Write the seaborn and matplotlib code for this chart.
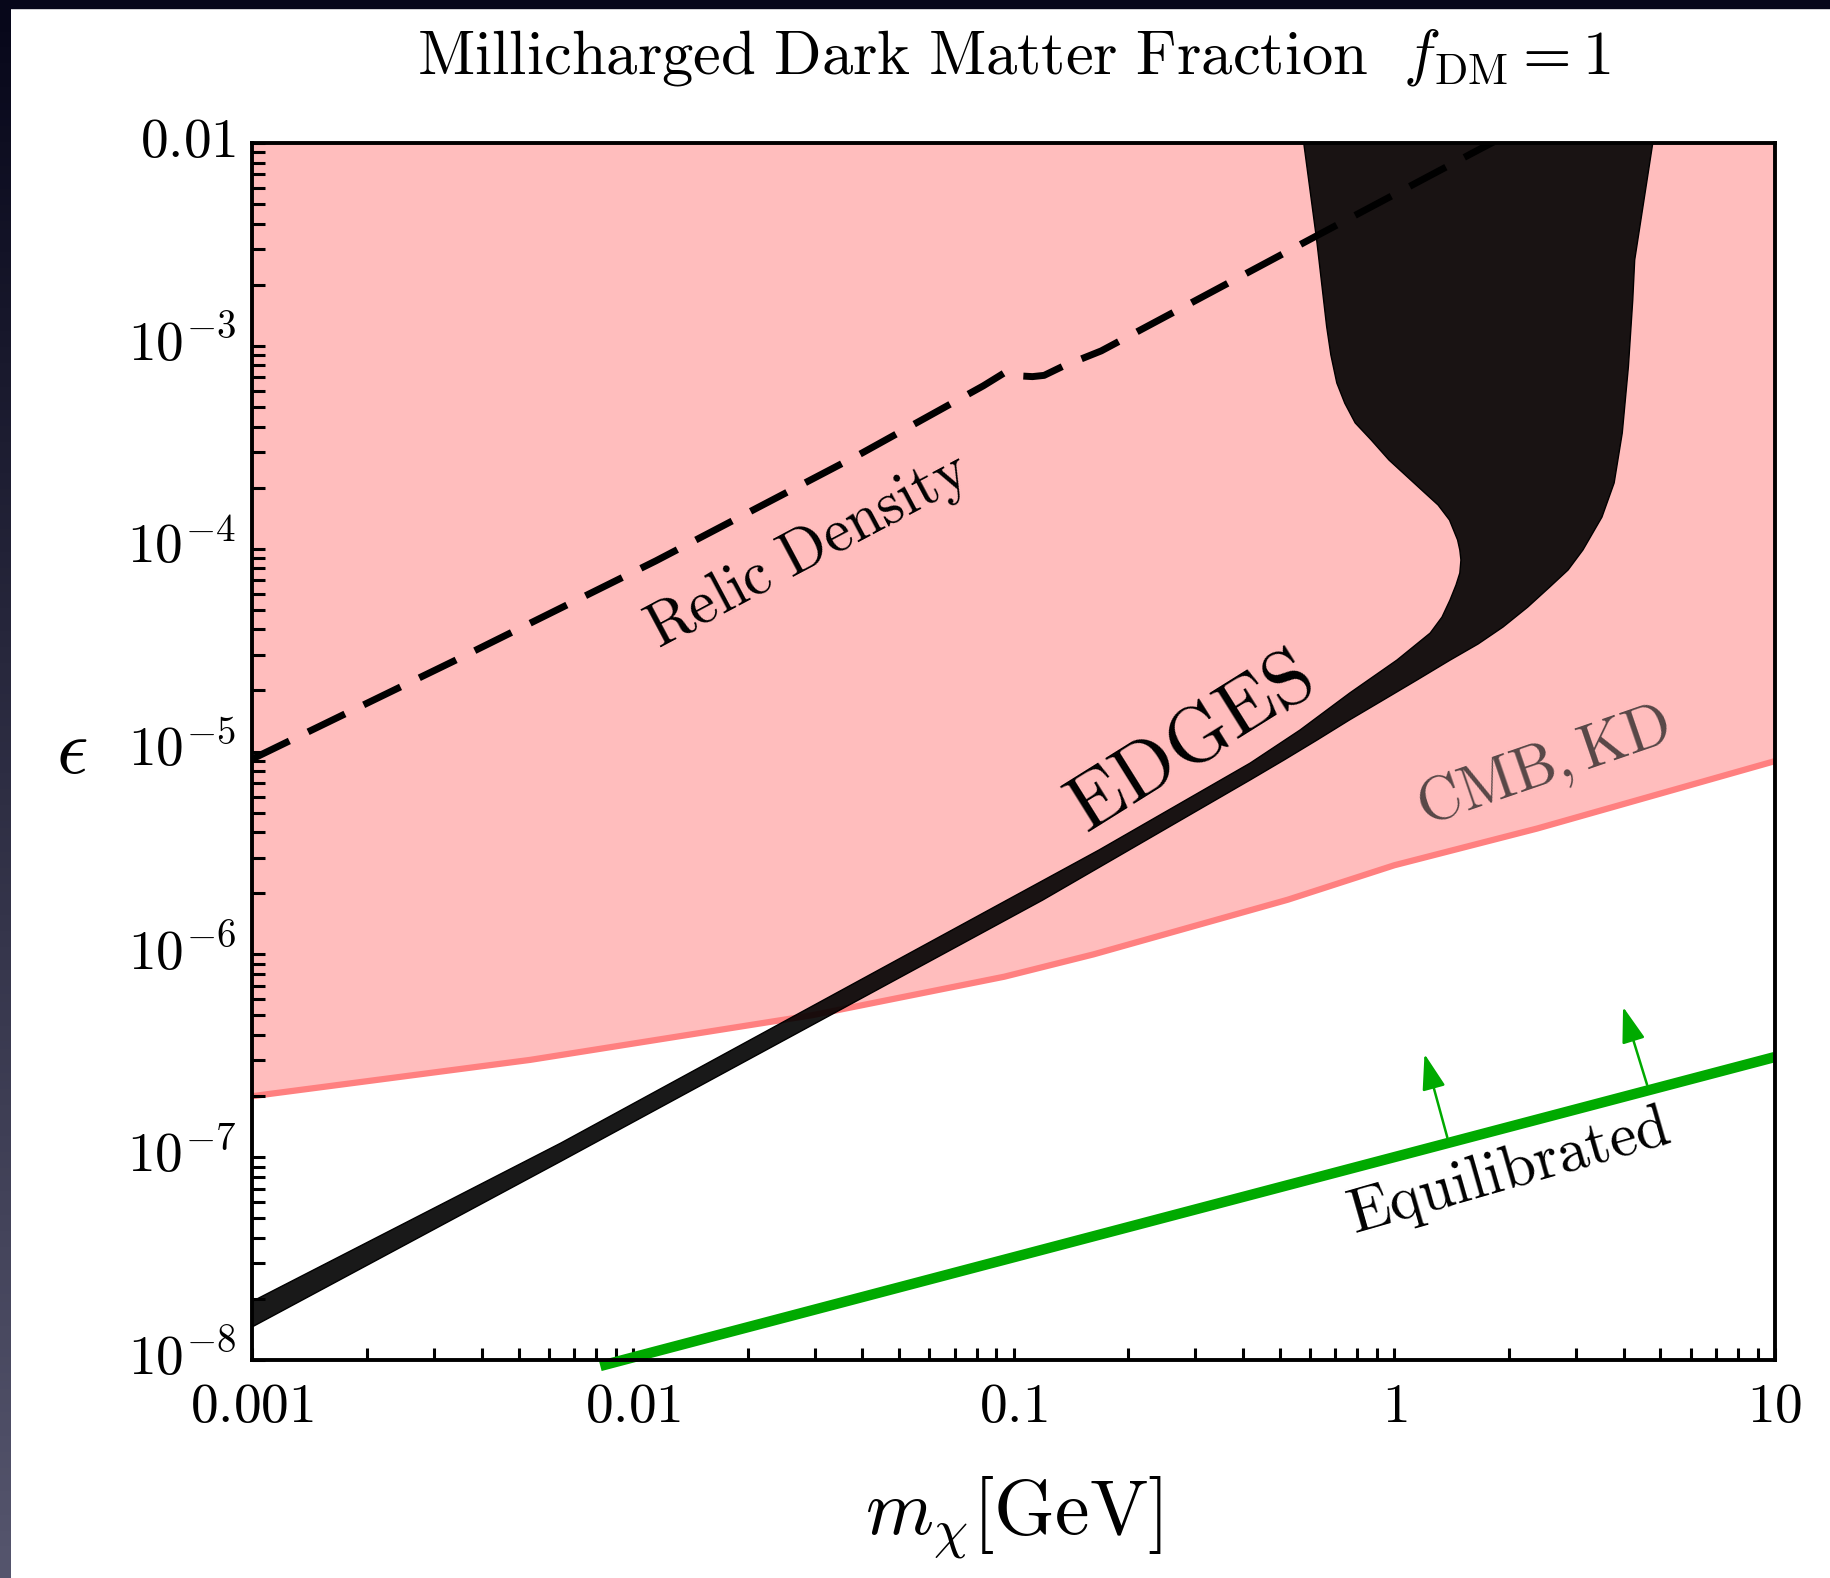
import numpy as np
import matplotlib
matplotlib.use("Agg")
import matplotlib.pyplot as plt
from matplotlib.patches import Rectangle
from matplotlib.transforms import ScaledTranslation
from matplotlib.ticker import LogLocator, NullFormatter, FixedFormatter, FixedLocator
import seaborn as sns

# ── Data ─────────────────────────────────────────────────────────────────────
# CMB, KD bound (pink region above it)
cmb_mass = [0.001, 0.00537, 0.0295, 0.0944, 0.162, 0.525, 1.0, 2.37, 10.0]
cmb_eps  = [2.0e-7, 3.02e-7, 5.01e-7, 7.76e-7, 1.0e-6, 1.86e-6, 2.75e-6, 4.17e-6, 8.97e-6]

# relic density (dashed)
relic_mass = [0.001, 0.00339, 0.01148, 0.0398, 0.0832, 0.0955, 0.1, 0.1047, 0.112,
              0.1202, 0.1349, 0.1698, 0.309, 0.631, 1.66, 1.82]
relic_eps  = [9.2e-6, 2.80e-5, 8.71e-5, 2.95e-4, 6.35e-4, 7.45e-4, 7.25e-4, 7.1e-4, 7.05e-4,
              7.15e-4, 7.94e-4, 9.44e-4, 1.72e-3, 3.52e-3, 9.23e-3, 1.01e-2]

# EDGES region: upper/left edge (left -> top) and lower/right edge (top -> left)
edges_up_mass = [0.001, 0.00646, 0.1675, 0.418, 0.565, 0.764, 1.016, 1.242, 1.334, 1.400,
                 1.452, 1.486, 1.496, 1.486, 1.466, 1.396, 1.303, 1.202, 0.968, 0.869,
                 0.789, 0.741, 0.706, 0.681, 0.664, 0.625, 0.578]
edges_up_eps  = [1.95e-8, 1.175e-7, 3.27e-6, 8.77e-6, 1.276e-5, 1.945e-5, 2.825e-5, 3.837e-5,
                 4.60e-5, 5.58e-5, 6.62e-5, 7.59e-5, 8.79e-5, 9.84e-5, 1.104e-4, 1.384e-4,
                 1.641e-4, 1.884e-4, 2.735e-4, 3.436e-4, 4.169e-4, 5.21e-4, 6.56e-4, 9.02e-4,
                 1.242e-3, 3.327e-3, 1.0e-2]
edges_lo_mass = [4.775, 4.60, 4.28, 4.23, 4.12, 3.97, 3.78, 3.51, 3.13, 2.86, 2.56,
                 2.24, 1.93, 1.66, 1.40, 1.146, 0.933, 0.762, 0.627, 0.513, 0.418, 0.119,
                 0.00646, 0.001]
edges_lo_eps  = [1.0e-2, 6.35e-3, 2.65e-3, 1.68e-3, 7.89e-4, 3.72e-4, 2.11e-4, 1.43e-4,
                 9.86e-5, 7.85e-5, 6.47e-5, 5.15e-5, 4.11e-5, 3.39e-5, 2.82e-5, 2.25e-5, 1.79e-5,
                 1.43e-5, 1.14e-5, 9.08e-6, 7.24e-6, 1.85e-6, 9.55e-8, 1.46e-8]

# equilibrated line + arrows
eq_mass = [0.0082, 10.0]
eq_eps  = [9.35e-9, 3.12e-7]
arrow_mass = [1.39, 4.66]

x_ticks  = [0.001, 0.01, 0.1, 1, 10]
x_labels = ["0.001", "0.01", "0.1", "1", "10"]
y_ticks  = [1e-8, 1e-7, 1e-6, 1e-5, 1e-4, 1e-3, 1e-2]
y_labels = [r"10^{-8}", r"10^{-7}", r"10^{-6}", r"10^{-5}", r"10^{-4}", r"10^{-3}", "0.01"]

# ── Style ────────────────────────────────────────────────────────────────────
PINK      = "#FFBDBD"
PINK_LINE = "#FF8080"
GREEN     = "#00AA00"

sns.set_theme(style="ticks")
plt.rcParams.update({
    "font.family": ["DejaVu Serif"],
    "mathtext.fontset": "cm",
    "text.color": "black",
    "axes.labelcolor": "black",
    "axes.linewidth": 2.8,
    "axes.edgecolor": "black",
    "axes.axisbelow": False,
    "xtick.direction": "in", "ytick.direction": "in",
    "xtick.color": "black", "ytick.color": "black",
})

fig = plt.figure(figsize=(18.31, 15.78), dpi=100, facecolor="white")
ax = fig.add_axes([0.1379, 0.1381, 0.8315, 0.7713])
ax.set_xscale("log")
ax.set_yscale("log")
ax.set_xlim(1e-3, 10)
ax.set_ylim(1e-8, 1e-2)

# pink excluded region + its edge
ax.fill_between(cmb_mass, cmb_eps, 1e-2, color=PINK, lw=0, zorder=1)
sns.lineplot(x=cmb_mass, y=cmb_eps, ax=ax, color=PINK_LINE, lw=4.5, zorder=2)

# EDGES region
ax.fill(edges_up_mass + edges_lo_mass, edges_up_eps + edges_lo_eps,
        facecolor=(0, 0, 0, 0.9), edgecolor="black", lw=1.0, zorder=3)

# relic density
sns.lineplot(x=relic_mass, y=relic_eps, ax=ax, color="black", lw=5, zorder=4)
ax.lines[-1].set_dashes((5.9, 3.0))
ax.lines[-1].set_dash_capstyle("butt")

# equilibrated
sns.lineplot(x=eq_mass, y=eq_eps, ax=ax, color=GREEN, lw=7.5, zorder=5)
ax.lines[-1].set_clip_on(False)
ax.lines[-1].set_solid_capstyle("butt")

lm, le = np.log10(eq_mass), np.log10(eq_eps)
for m, off in zip(arrow_mass, [(-17.5, 64), (-18.5, 60)]):
    e = 10 ** np.interp(np.log10(m), lm, le)
    ax.annotate("", xy=(m, e), xytext=off, textcoords="offset points",
                arrowprops=dict(arrowstyle="<|-,head_length=1.1,head_width=0.36",
                                color=GREEN, lw=1.8, mutation_scale=20,
                                shrinkA=0, shrinkB=4), zorder=5)

# labels on the plot
ax.text(0.0288, 9.8e-5, r"$\mathrm{Relic\ Density}$", fontsize=44, rotation=28,
        ha="center", va="center", rotation_mode="anchor", zorder=6)
ax.text(0.292, 1.09e-5, r"$\mathrm{EDGES}$", fontsize=57, rotation=32,
        ha="center", va="center", rotation_mode="anchor", zorder=6)
ax.text(2.47, 8.3e-6, r"$\mathrm{CMB},\mathrm{KD}$", fontsize=44, rotation=19,
        color="#574747", ha="center", va="center", rotation_mode="anchor", zorder=6)
ax.text(2.0, 8.4e-8, r"$\mathrm{Equilibrated}$", fontsize=44, rotation=16,
        ha="center", va="center", rotation_mode="anchor", zorder=6)

# ── Axes ─────────────────────────────────────────────────────────────────────
ax.xaxis.set_major_locator(FixedLocator(x_ticks))
ax.xaxis.set_major_formatter(FixedFormatter([f"${s}$" for s in x_labels]))
ax.yaxis.set_major_locator(FixedLocator(y_ticks))
ax.yaxis.set_major_formatter(FixedFormatter([f"${s}$" for s in y_labels]))
ax.xaxis.set_minor_locator(LogLocator(base=10, subs=np.arange(2, 10), numticks=20))
ax.yaxis.set_minor_locator(LogLocator(base=10, subs=np.arange(2, 10), numticks=20))
ax.xaxis.set_minor_formatter(NullFormatter())
ax.yaxis.set_minor_formatter(NullFormatter())
ax.tick_params(which="both", length=9, width=2.2, top=False, right=False)
ax.tick_params(axis="x", labelsize=40, pad=14)
ax.tick_params(axis="y", labelsize=40, pad=12)
for s in ax.spines.values():
    s.set_visible(True)
    s.set_zorder(10)

# y tick labels sit a little above their ticks in the reference
shift = ScaledTranslation(0, 5 / 72, fig.dpi_scale_trans)
for lab in ax.get_yticklabels():
    lab.set_transform(lab.get_transform() + shift)

ax.set_xlabel(r"$m_\chi[\mathrm{GeV}]$", fontsize=56, va="center")
ax.xaxis.set_label_coords(0.5, -0.13)
ax.set_ylabel(r"$\epsilon$", fontsize=56, rotation=0, ha="center", va="center")
ax.yaxis.set_label_coords(-0.1186, 0.5)

ax.set_title(r"$\mathrm{Millicharged\ Dark\ Matter\ Fraction}\ \ f_{\mathrm{DM}}=1$",
             fontsize=45, y=1.05, va="baseline")

# dark screen border (top strip + left strip)
fig.patches.append(Rectangle((0, 1 - 8 / 1578), 1, 8 / 1578, transform=fig.transFigure,
                             color="#07071a", zorder=20))
bax = fig.add_axes([0, 0, 11 / 1831, 1])
bax.imshow(np.linspace(0, 1, 200)[:, None],
           cmap=matplotlib.colors.LinearSegmentedColormap.from_list("edge", ["#07071a", "#55556d"]),
           aspect="auto", extent=[0, 1, 0, 1], origin="upper")
bax.axis("off")

fig.savefig("out.png", dpi=100, facecolor="white")
